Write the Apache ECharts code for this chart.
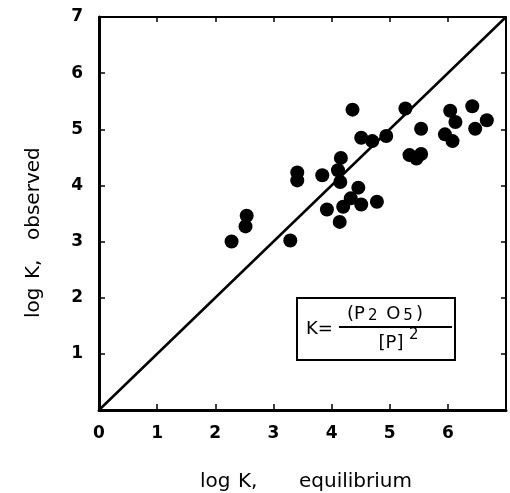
<!DOCTYPE html>
<html>
<head>
<meta charset="utf-8">
<script src="https://cdn.jsdelivr.net/npm/echarts@6/dist/echarts.min.js"></script>
<style>
  html, body { margin: 0; padding: 0; background: #fff; }
  #chart { width: 510px; height: 493px; }
</style>
</head>
<body>
<div id="chart"></div>
<script>
  // log K equilibrium (x) vs log K observed (y)
  var logKEquilibrium = [2.28, 2.52, 2.54, 3.29, 3.41, 3.41, 3.84, 3.92, 4.14, 4.20, 4.15,
    4.11, 4.16, 4.33, 4.46, 4.51, 4.78, 4.36, 4.51, 4.70, 4.94, 5.27, 5.34, 5.46, 5.54,
    5.54, 5.95, 6.08, 6.04, 6.13, 6.42, 6.47, 6.67];
  var logKObserved = [3.00, 3.27, 3.46, 3.02, 4.09, 4.23, 4.18, 3.57, 3.35, 3.62, 4.06,
    4.27, 4.49, 3.77, 3.96, 3.66, 3.71, 5.35, 4.85, 4.79, 4.88, 5.37, 4.54, 4.48, 4.56,
    5.01, 4.91, 4.79, 5.33, 5.13, 5.41, 5.01, 5.16];
  // 1:1 line
  var unityLine = [[0, 0], [7, 7]];
  var tickLabels = ['0', '1', '2', '3', '4', '5', '6', '7'];

  var points = logKEquilibrium.map(function (x, i) { return [x, logKObserved[i]]; });

  var chart = echarts.init(document.getElementById('chart'));
  var font = 'DejaVu Sans';
  var black = '#000';
  var titleFont = '20px "DejaVu Sans"';

  function frameAxis(pos) {
    return {
      type: 'value', position: pos, min: 0, max: 7, interval: 1,
      axisLine: { show: true, onZero: false, lineStyle: { color: black, width: 2 } },
      axisTick: { show: true, inside: true, length: 5, lineStyle: { color: black, width: 1.5 } },
      axisLabel: { show: false },
      splitLine: { show: false }
    };
  }

  var option = {
    animation: false,
    backgroundColor: '#fff',
    grid: { left: 99, right: 4, top: 17, bottom: 83 },
    xAxis: [{
      type: 'value', position: 'bottom', min: 0, max: 7, interval: 1,
      axisLine: { show: true, onZero: false, lineStyle: { color: black, width: 3 } },
      axisTick: { show: true, inside: true, length: 6, lineStyle: { color: black, width: 1.5 } },
      axisLabel: {
        margin: 15, fontFamily: font, fontSize: 17, fontWeight: 'bold', color: black,
        formatter: function (v) { return v === 7 ? '' : tickLabels[v]; }
      },
      splitLine: { show: false }
    }, frameAxis('top')],
    yAxis: [{
      type: 'value', position: 'left', min: 0, max: 7, interval: 1,
      axisLine: { show: true, onZero: false, lineStyle: { color: black, width: 3 } },
      axisTick: { show: true, inside: true, length: 6, lineStyle: { color: black, width: 1.5 } },
      axisLabel: {
        margin: 16, fontFamily: font, fontSize: 17, fontWeight: 'bold', color: black,
        formatter: function (v) { return v === 0 ? '' : tickLabels[v]; }
      },
      splitLine: { show: false }
    }, frameAxis('right')],
    series: [{
      type: 'line',
      data: unityLine,
      symbol: 'none',
      lineStyle: { color: black, width: 2.5 },
      z: 2
    }, {
      type: 'scatter',
      data: points,
      symbol: 'circle',
      symbolSize: 14,
      itemStyle: { color: black, opacity: 1 },
      z: 3
    }],
    graphic: [
      // axis titles
      { type: 'text', x: 200, y: 482,
        style: { text: 'log', font: titleFont, fill: black, verticalAlign: 'middle' } },
      { type: 'text', x: 238, y: 482,
        style: { text: 'K,', font: titleFont, fill: black, verticalAlign: 'middle' } },
      { type: 'text', x: 299, y: 482,
        style: { text: 'equilibrium', font: titleFont, fill: black, verticalAlign: 'middle' } },
      { type: 'text', x: 34, y: 318, rotation: Math.PI / 2,
        style: { text: 'log', font: titleFont, fill: black, verticalAlign: 'middle' } },
      { type: 'text', x: 34, y: 279, rotation: Math.PI / 2,
        style: { text: 'K,', font: titleFont, fill: black, verticalAlign: 'middle' } },
      { type: 'text', x: 34, y: 240, rotation: Math.PI / 2,
        style: { text: 'observed', font: titleFont, fill: black, verticalAlign: 'middle' } },
      // inset formula box
      { type: 'rect', shape: { x: 297, y: 298, width: 158, height: 62 },
        style: { fill: '#fff', stroke: black, lineWidth: 2 }, z: 10 },
      { type: 'text', x: 306, y: 329,
        style: { text: 'K=', font: '18px "DejaVu Sans"', fill: black, verticalAlign: 'middle' }, z: 11 },
      { type: 'line', shape: { x1: 339, y1: 327, x2: 452, y2: 327 },
        style: { stroke: black, lineWidth: 2 }, z: 11 },
      { type: 'text', x: 385, y: 314, z: 11,
        style: {
          text: '{a|(P}{s|2}{a| O}{s|5}{a|)}', align: 'center', verticalAlign: 'middle',
          rich: {
            a: { font: '18px "DejaVu Sans"', fill: black },
            s: { font: '15px "DejaVu Sans"', fill: black, padding: [4, 3, 0, 3] }
          }
        } },
      { type: 'text', x: 391, y: 343,
        style: { text: '[P]', font: '18px "DejaVu Sans"', fill: black, align: 'center', verticalAlign: 'middle' }, z: 11 },
      { type: 'text', x: 409, y: 335,
        style: { text: '2', font: '15px "DejaVu Sans"', fill: black, verticalAlign: 'middle' }, z: 11 }
    ]
  };

  chart.setOption(option);
</script>
</body>
</html>
